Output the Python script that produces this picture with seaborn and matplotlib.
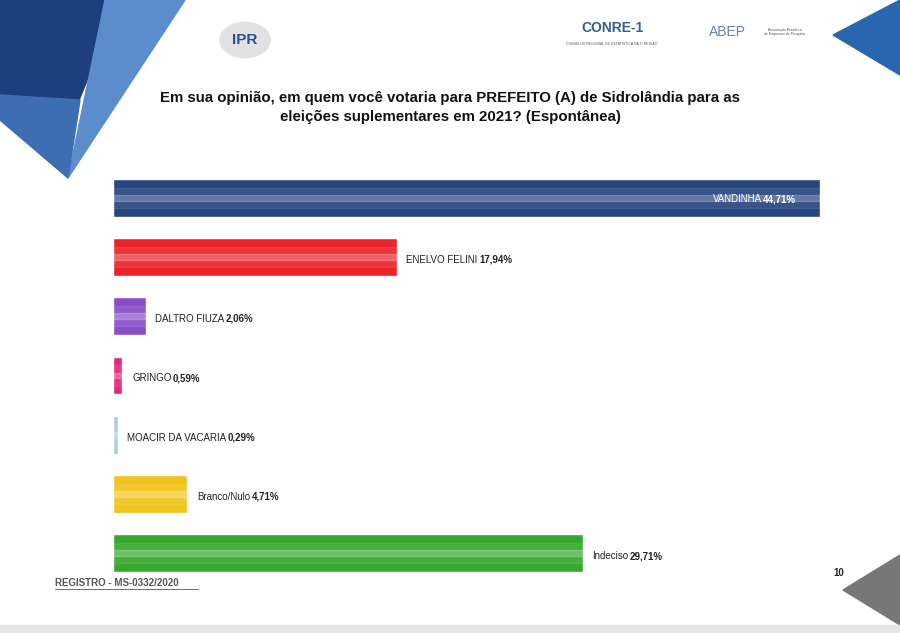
import seaborn as sns
import matplotlib.pyplot as plt
import pandas as pd
from matplotlib.patches import Polygon, Circle
from matplotlib import font_manager

# dados da pesquisa
candidatos = ['VANDINHA', 'ENELVO FELINI', 'DALTRO FIUZA', 'GRINGO',
              'MOACIR DA VACARIA', 'Branco/Nulo', 'Indeciso']
percentuais = [44.71, 17.94, 2.06, 0.59, 0.29, 4.71, 29.71]
cores = ['#27457f', '#ec2329', '#8a4fc8', '#e2287c', '#a9cbe9', '#f1c41c', '#36a92c']

titulo = ('Em sua opinião, em quem você votaria para PREFEITO (A) de Sidrolândia para as\n'
          'eleições suplementares em 2021? (Espontânea)')

nomes = {f.name for f in font_manager.fontManager.ttflist}
fonte = 'Liberation Sans' if 'Liberation Sans' in nomes else 'DejaVu Sans'

sns.set_style('white')
plt.rcParams['font.family'] = [fonte, 'DejaVu Sans']

df = pd.DataFrame({'candidato': candidatos, 'pct': percentuais})

fig = plt.figure(figsize=(9, 6.33), dpi=100)
ax = fig.add_axes([0.1256, 0.079, 0.841, 0.6556])

sns.barplot(data=df, x='pct', y='candidato', hue='candidato', palette=cores,
            saturation=1, width=0.64, legend=False, ax=ax, orient='h')
# brilho dos tubos
sns.barplot(data=df, x='pct', y='candidato', color='white', saturation=1,
            width=0.34, alpha=0.08, ax=ax, orient='h')
sns.barplot(data=df, x='pct', y='candidato', color='white', saturation=1,
            width=0.10, alpha=0.22, ax=ax, orient='h')

ax.set_xlim(0, 47.88)
ax.set_ylim(6.5, -0.5)
ax.axis('off')

for i, (nome, v) in enumerate(zip(candidatos, percentuais)):
    txt_v = f'{v:.2f}%'.replace('.', ',')
    if i == 0:
        t = ax.annotate(txt_v, xy=(v, i), xytext=(-17, -1), textcoords='offset points',
                        ha='right', va='center', fontsize=7, fontweight='bold', color='white')
        ax.annotate(nome, xy=(0, 0.5), xycoords=t, xytext=(-1, 0),
                    textcoords='offset points', ha='right', va='center',
                    fontsize=7, color='white')
    else:
        t = ax.annotate(nome, xy=(v, i), xytext=(7, -2), textcoords='offset points',
                        ha='left', va='center', fontsize=7, color='#222222')
        ax.annotate(txt_v, xy=(1, 0.5), xycoords=t, xytext=(1, 0),
                    textcoords='offset points', ha='left', va='center',
                    fontsize=7, fontweight='bold', color='#222222')

fig.text(0.5, 0.83, titulo, ha='center', va='center', fontsize=10.8,
         fontweight='bold', color='#111111', linespacing=1.5)

# decoração do slide
def poly(pts, cor, z=0):
    fig.patches.append(Polygon([(x / 900, 1 - y / 633) for x, y in pts], closed=True,
                               transform=fig.transFigure, color=cor, zorder=z))

poly([(0, 0), (120, 0), (75, 110), (0, 100)], '#1d3f80')
poly([(105, 0), (185, 0), (68, 178)], '#5b8ccc')
poly([(0, 95), (80, 100), (68, 178), (0, 120)], '#3d6db3')
poly([(833, 35), (900, 0), (900, 75)], '#2a66b0')
poly([(843, 590), (900, 555), (900, 625)], '#777777')
poly([(0, 625), (900, 625), (900, 633), (0, 633)], '#e6e6e6')

fig.patches.append(Circle((245 / 900, 1 - 40 / 633), 0.028, transform=fig.transFigure,
                          color='#e2e2e2', zorder=1))
fig.text(245 / 900, 1 - 40 / 633, 'IPR', ha='center', va='center', fontsize=11,
         fontweight='bold', color='#2a4f8f')
fig.text(612 / 900, 1 - 28 / 633, 'CONRE-1', ha='center', va='center', fontsize=10,
         fontweight='bold', color='#3a5d8f')
fig.text(612 / 900, 1 - 44 / 633, 'CONSELHO REGIONAL DE ESTATÍSTICA DA 1ª REGIÃO',
         ha='center', va='center', fontsize=2.5, color='#555555')
fig.text(727 / 900, 1 - 32 / 633, 'ABEP', ha='center', va='center', fontsize=10,
         color='#6b7fa8')
fig.text(785 / 900, 1 - 32 / 633, 'Associação Brasileira\nde Empresas de Pesquisa',
         ha='center', va='center', fontsize=2.5, color='#555555')

fig.text(55 / 900, 1 - 583 / 633, 'REGISTRO - MS-0332/2020', ha='left', va='center',
         fontsize=7, fontweight='bold', color='#555555')
fig.add_artist(plt.Line2D([55 / 900, 198 / 900], [1 - 589 / 633, 1 - 589 / 633],
                          transform=fig.transFigure, color='#555555', lw=0.6))
fig.text(839 / 900, 1 - 573 / 633, '10', ha='center', va='center', fontsize=7,
         fontweight='bold', color='#222222')

fig.savefig('out.png', dpi=100)
